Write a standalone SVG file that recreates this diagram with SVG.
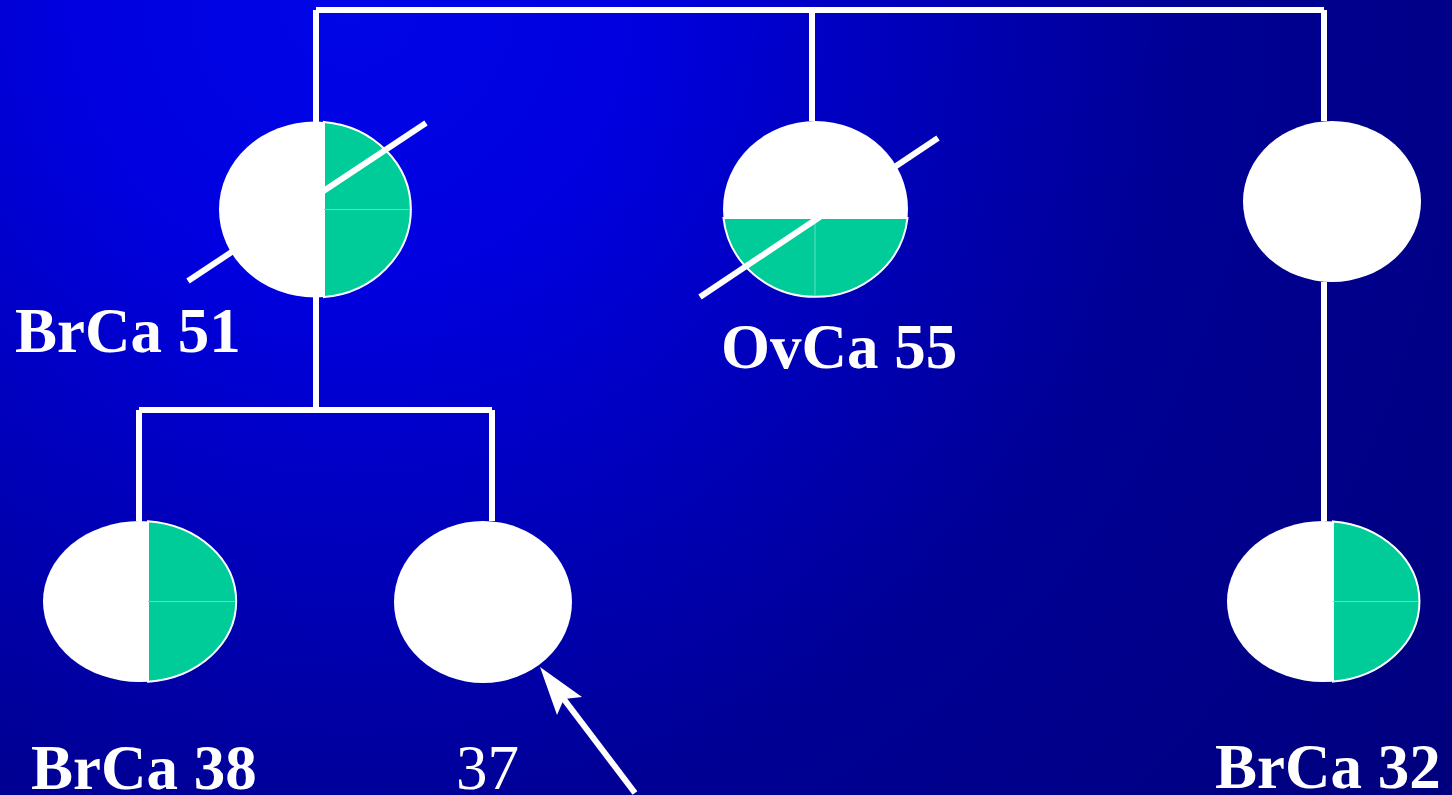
<svg xmlns="http://www.w3.org/2000/svg" width="1452" height="795" viewBox="0 0 1452 795">
<defs>
<radialGradient id="bg" cx="350" cy="0" r="1400" gradientUnits="userSpaceOnUse">
<stop offset="0" stop-color="#0006E6"/>
<stop offset="0.2" stop-color="#0000E0"/>
<stop offset="0.42" stop-color="#0000B6"/>
<stop offset="0.6" stop-color="#000094"/>
<stop offset="0.82" stop-color="#000086"/>
<stop offset="1" stop-color="#00007C"/>
</radialGradient>
<style>
.ln{stroke:#fff;stroke-width:6;fill:none}
.slash{stroke:#fff;stroke-width:6;fill:none}
.body{fill:#fff}
.aff{fill:#00CC99;stroke:#fff;stroke-width:2}
.div{stroke:#66DDBB;stroke-width:1;fill:none}
.lbl{font-family:"Liberation Serif","Times New Roman",serif;font-size:63px;fill:#fff}
.b{font-weight:bold}
</style>
</defs>
<rect width="1452" height="795" fill="url(#bg)"/>
<g id="connectors">
<path class="ln" d="M316,10 H1324 M316,10 V122 M812,10 V121 M1324,10 V121"/>
<path class="ln" d="M316,297 V410 M139,410 H492 M139,410 V521 M492,410 V521"/>
<path class="ln" d="M1324,282 V521"/>
<line x1="635" y1="793" x2="563" y2="698" stroke="#fff" stroke-width="6"/>
<polygon points="540,667 582,697 564,699 557,715" fill="#fff"/>
</g>
<g id="node-brca51">
<ellipse class="body" cx="315" cy="209.5" rx="96" ry="88"/>
<path class="aff" d="M324,121.9 A96,88 0 0 1 324,297.1 Z"/>
<line class="div" x1="324" y1="209.5" x2="410" y2="209.5"/>
<line class="slash" x1="188" y1="281" x2="426" y2="123"/>
<text class="lbl b" x="15" y="352">BrCa 51</text>
</g>
<g id="node-ovca55">
<ellipse class="body" cx="815.5" cy="209" rx="92.5" ry="88"/>
<path class="aff" d="M723.5,218 L907.5,218 A92.5,88 0 0 1 723.5,218 Z"/>
<line class="div" x1="815" y1="218" x2="815" y2="296"/>
<line class="slash" x1="700" y1="297" x2="938" y2="138"/>
<text class="lbl b" x="721" y="368">OvCa 55</text>
</g>
<g id="node-topright">
<ellipse class="body" cx="1332" cy="201.5" rx="89" ry="80.5"/>
</g>
<g id="node-brca38">
<ellipse class="body" cx="139.5" cy="601.5" rx="96.5" ry="80.5"/>
<path class="aff" d="M148,521.3 A96.5,80.5 0 0 1 148,681.7 Z"/>
<line class="div" x1="148" y1="601.5" x2="235" y2="601.5"/>
<text class="lbl b" x="31" y="789">BrCa 38</text>
</g>
<g id="node-37">
<ellipse class="body" cx="483" cy="602" rx="89" ry="81"/>
<text class="lbl" x="456" y="789">37</text>
</g>
<g id="node-brca32">
<ellipse class="body" cx="1323" cy="601.5" rx="96" ry="80.5"/>
<path class="aff" d="M1333,521.4 A96,80.5 0 0 1 1333,681.6 Z"/>
<line class="div" x1="1333" y1="601.5" x2="1418" y2="601.5"/>
<text class="lbl b" x="1215" y="788">BrCa 32</text>
</g>
</svg>
